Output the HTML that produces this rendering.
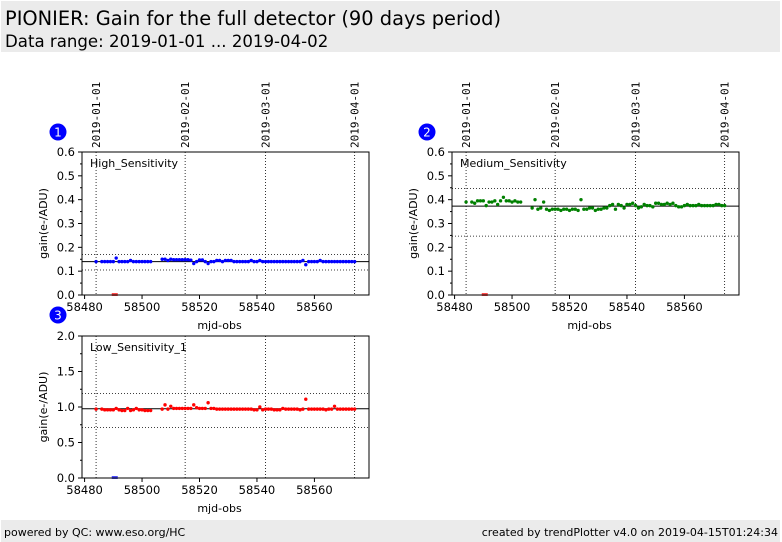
<!DOCTYPE html>
<html><head><meta charset="utf-8">
<style>
body{margin:0;background:#fff;width:782px;height:542px;overflow:hidden;font-family:"DejaVu Sans","Liberation Sans",sans-serif;}
#hdr{position:absolute;left:1px;top:1px;width:779px;height:51px;background:#ebebeb;}
#t1{position:absolute;left:4px;top:6px;font-size:19.4px;color:#000;white-space:nowrap;}
#t2{position:absolute;left:4px;top:31px;font-size:16.6px;color:#000;white-space:nowrap;}
#ftr{position:absolute;left:1px;top:520px;width:779px;height:22px;background:#ebebeb;font-size:11px;}
#f1{position:absolute;left:3px;top:6px;}
#f2{position:absolute;right:2px;top:6px;}
svg{position:absolute;left:0;top:0;}
</style></head><body>
<div id="hdr">
<div id="t1">PIONIER: Gain for the full detector (90 days period)</div>
<div id="t2">Data range: 2019-01-01 ... 2019-04-02</div>
</div>
<svg id="chart" width="782" height="542"></svg>
<div id="ftr">
<span id="f1">powered by QC: www.eso.org/HC</span>
<span id="f2">created by trendPlotter v4.0 on 2019-04-15T01:24:34</span>
</div>
<script>
const days = [58484,58486,58487,58488,58489,58490,58491,58492,58493,58494,58495,58496,58497,58498,58499,58500,58501,58502,58503,
58507,58508,58509,58510,58511,58512,58513,58514,58515,58516,58517,58518,58519,58520,58521,58522,58523,58524,58525,58526,58527,58528,58529,58530,58531,58532,58533,58534,58535,58536,58537,58538,58539,58540,58541,58542,58543,58544,58545,58546,58547,58548,58549,58550,58551,58552,58553,58554,58555,58556,58557,58558,58559,58560,58561,58562,58563,58564,58565,58566,58567,58568,58569,58570,58571,58572,58573,58574];
const highVals = [0.14,0.14,0.14,0.14,0.14,0.14,0.155,0.14,0.14,0.14,0.14,0.145,0.14,0.14,0.14,0.14,0.14,0.14,0.14,
0.15,0.15,0.145,0.15,0.148,0.148,0.148,0.148,0.148,0.148,0.146,0.132,0.14,0.147,0.147,0.14,0.132,0.14,0.14,0.145,0.145,0.14,0.145,0.145,0.145,0.14,0.14,0.14,0.14,0.14,0.14,0.145,0.14,0.14,0.145,0.14,0.14,0.14,0.14,0.14,0.14,0.14,0.14,0.14,0.14,0.14,0.14,0.14,0.14,0.145,0.127,0.14,0.14,0.14,0.14,0.145,0.14,0.14,0.14,0.14,0.14,0.14,0.14,0.14,0.14,0.14,0.14,0.14];
const medVals = [0.39,0.39,0.385,0.395,0.395,0.395,0.375,0.39,0.39,0.395,0.38,0.395,0.41,0.395,0.395,0.39,0.395,0.39,0.39,
0.365,0.40,0.36,0.365,0.39,0.36,0.355,0.36,0.36,0.36,0.355,0.36,0.36,0.355,0.36,0.36,0.355,0.40,0.36,0.36,0.365,0.365,0.355,0.36,0.36,0.365,0.365,0.375,0.38,0.36,0.38,0.375,0.365,0.38,0.38,0.385,0.375,0.365,0.37,0.38,0.375,0.375,0.37,0.385,0.385,0.38,0.38,0.385,0.38,0.385,0.375,0.37,0.37,0.375,0.38,0.375,0.375,0.375,0.38,0.375,0.375,0.375,0.375,0.375,0.38,0.38,0.375,0.375];
const lowVals = [0.97,0.97,0.96,0.96,0.96,0.96,0.98,0.96,0.95,0.95,0.98,0.95,0.96,0.98,0.96,0.96,0.95,0.95,0.95,
0.97,1.03,0.97,1.01,0.98,0.98,0.98,0.98,0.98,0.98,0.98,1.03,0.99,0.98,0.98,0.98,1.06,0.98,0.98,0.97,0.97,0.97,0.97,0.97,0.97,0.97,0.97,0.97,0.97,0.97,0.97,0.97,0.96,0.96,1.0,0.96,0.97,0.97,0.97,0.96,0.96,0.96,0.98,0.97,0.97,0.97,0.97,0.97,0.96,0.97,1.11,0.97,0.97,0.97,0.97,0.97,0.97,0.96,0.97,0.97,1.01,0.97,0.97,0.97,0.97,0.97,0.97,0.97];
const outlierDay = [58490.5];
const outlierVal = [0];
const dateLabels = ["2019-01-01","2019-02-01","2019-03-01","2019-04-01"];
const dateMjd = [58484,58515,58543,58574];
const xTicks = [58480,58500,58520,58540,58560];
const panels = [
 {name:"high",label:"High_Sensitivity",x0:82,y0:152,w:287,h:143,ymax:0.6,yticks:[0,0.1,0.2,0.3,0.4,0.5,0.6],dec:1,vals:highVals,col:"#0000ff",ocol:"#ff0000",mid:0.14,lo:0.105,hi:0.17,badge:"1",bx:58,by:132,dates:true},
 {name:"medium",label:"Medium_Sensitivity",x0:452,y0:152,w:287,h:143,ymax:0.6,yticks:[0,0.1,0.2,0.3,0.4,0.5,0.6],dec:1,vals:medVals,col:"#008000",ocol:"#ff0000",mid:0.373,lo:0.247,hi:0.447,badge:"2",bx:427,by:132,dates:true},
 {name:"low",label:"Low_Sensitivity_1",x0:82,y0:336,w:287,h:142,ymax:2.0,yticks:[0,0.5,1.0,1.5,2.0],dec:1,vals:lowVals,col:"#ff0000",ocol:"#0000ff",mid:0.975,lo:0.71,hi:1.19,badge:"3",bx:58,by:315,dates:false}
];
const NS="http://www.w3.org/2000/svg";
const svg=document.getElementById('chart');
function mk(t,a,p,txt){const e=document.createElementNS(NS,t);for(const k in a)e.setAttribute(k,a[k]);if(txt!==undefined)e.textContent=txt;(p||svg).appendChild(e);return e;}
const XMIN=58479.1,XMAX=58579;
panels.forEach(P=>{
 const g=mk('g',{});
 
 
 const xs=v=>P.x0+(v-XMIN)/(XMAX-XMIN)*P.w;
 const ys=v=>P.y0+P.h-v/P.ymax*P.h;
 mk('rect',{x:P.x0,y:P.y0,width:P.w,height:P.h,fill:'#fff',stroke:'none'},g);
 dateMjd.forEach((d,i)=>{
  const l=mk('line',{x1:xs(d),x2:xs(d),y1:P.y0,y2:P.y0+P.h,stroke:'#000','stroke-width':0.8,'stroke-dasharray':'1,2'},g);
  
  
  if(P.dates){
   const x=xs(d)+4,y=P.y0-4;
   const t=mk('text',{x:x,y:y,transform:`rotate(-90 ${x} ${y})`,'font-size':11,'font-family':'"DejaVu Sans Mono","Liberation Mono",monospace',fill:'#000'},g,dateLabels[i]);
   
   
  }
 });
 [P.lo,P.hi].forEach(v=>{
  const l=mk('line',{x1:P.x0,x2:P.x0+P.w,y1:ys(v),y2:ys(v),stroke:'#000','stroke-width':0.8,'stroke-dasharray':'1,2'},g);
  
  
 });
 const ml=mk('line',{x1:P.x0,x2:P.x0+P.w,y1:ys(P.mid),y2:ys(P.mid),stroke:'#000','stroke-width':1},g);
 
 
 days.forEach((d,i)=>{
  const c=mk('circle',{cx:xs(d),cy:ys(P.vals[i]),r:1.7,fill:P.col},g);
  
  
 });
 outlierDay.forEach((d,i)=>{
  const r=mk('rect',{x:xs(d)-3,y:ys(outlierVal[i])-2,width:6,height:3,fill:P.ocol,opacity:0.7},g);
  
  
 });
 mk('rect',{x:P.x0,y:P.y0,width:P.w,height:P.h,fill:'none',stroke:'#000','stroke-width':1},g);
 P.yticks.forEach(v=>{
  mk('line',{x1:P.x0-4,x2:P.x0,y1:ys(v),y2:ys(v),stroke:'#000'},g);
  const t=mk('text',{x:P.x0-7,y:ys(v)+4,'text-anchor':'end','font-size':11.5,fill:'#000'},g,v.toFixed(P.dec));
  
  
 });
 for(let k=0;k<P.yticks.length-1;k++){const v=(P.yticks[k]+P.yticks[k+1])/2;mk('line',{x1:P.x0-2,x2:P.x0,y1:ys(v),y2:ys(v),stroke:'#000'},g);}
 xTicks.forEach(v=>{
  mk('line',{x1:xs(v),x2:xs(v),y1:P.y0+P.h,y2:P.y0+P.h+4,stroke:'#000'},g);
  const t=mk('text',{x:xs(v),y:P.y0+P.h+16,'text-anchor':'middle','font-size':11.5,fill:'#000'},g,String(v));
  
  
 });
 const xl=mk('text',{x:P.x0+P.w/2-6,y:P.y0+P.h+34,'text-anchor':'middle','font-size':11,fill:'#000'},g,'mjd-obs');
 
 
 const yx=P.x0-35,yy=P.y0+P.h/2;
 const yl=mk('text',{x:yx,y:yy,transform:`rotate(-90 ${yx} ${yy})`,'text-anchor':'middle','font-size':11,fill:'#000'},g,'gain(e-/ADU)');
 
 
 const pl=mk('text',{x:P.x0+8,y:P.y0+15,'font-size':11,fill:'#000'},g,P.label);
 
 
 const bc=mk('circle',{cx:P.bx,cy:P.by,r:8.5,fill:'#0000ff'},g);
 
 
 mk('text',{x:P.bx,y:P.by+4.5,'text-anchor':'middle','font-size':12,fill:'#fff'},g,P.badge);
});
</script>
</body></html>
